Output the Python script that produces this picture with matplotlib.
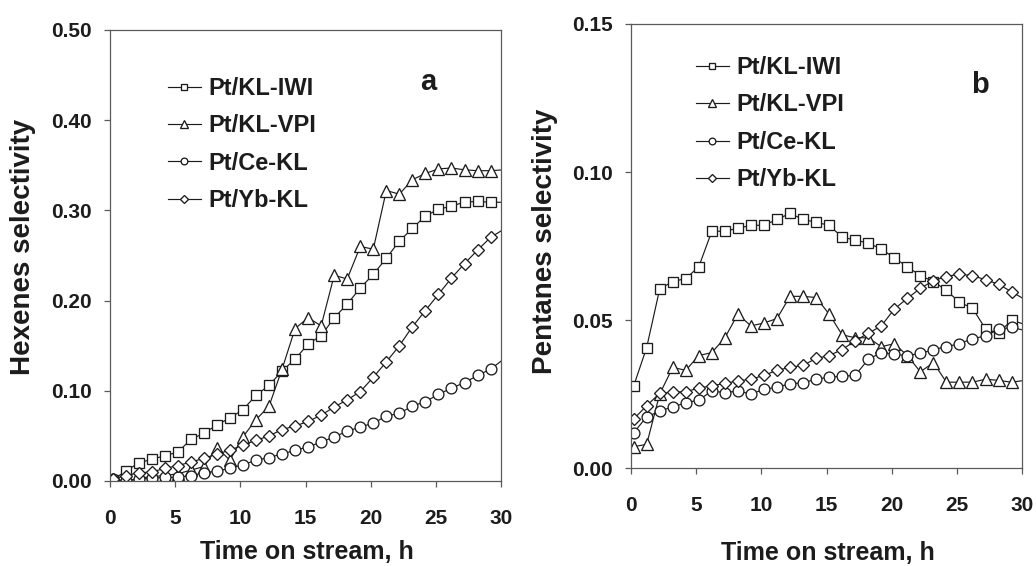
import numpy as np
import matplotlib.pyplot as plt

plt.rcParams['font.family'] = ['Liberation Sans', 'DejaVu Sans']
plt.rcParams['font.weight'] = 'bold'
plt.rcParams['axes.labelweight'] = 'bold'

# sampling times (h); last point lies just past the axis end
hours = np.arange(0.2, 31, 1.0)

series_names = ['Pt/KL-IWI', 'Pt/KL-VPI', 'Pt/Ce-KL', 'Pt/Yb-KL']
series_markers = ['s', '^', 'o', 'D']

# (a) hexenes selectivity
hex_iwi = [0.001, 0.011, 0.020, 0.024, 0.028, 0.032, 0.046, 0.053, 0.062, 0.070,
           0.079, 0.095, 0.106, 0.122, 0.135, 0.152, 0.161, 0.181, 0.196, 0.214,
           0.229, 0.247, 0.266, 0.280, 0.294, 0.301, 0.305, 0.309, 0.310, 0.309, 0.309]
hex_vpi = [0.002, 0.000, 0.003, 0.005, 0.006, 0.008, 0.012, 0.016, 0.037, 0.023,
           0.049, 0.068, 0.083, 0.124, 0.169, 0.181, 0.172, 0.228, 0.224, 0.260,
           0.257, 0.322, 0.318, 0.334, 0.341, 0.346, 0.347, 0.345, 0.344, 0.344, 0.345]
hex_ce = [0.002, 0.000, 0.002, 0.003, 0.004, 0.004, 0.006, 0.009, 0.011, 0.014,
          0.018, 0.023, 0.026, 0.030, 0.034, 0.038, 0.043, 0.049, 0.055, 0.060,
          0.064, 0.072, 0.075, 0.083, 0.088, 0.096, 0.103, 0.109, 0.117, 0.124, 0.135]
hex_yb = [0.002, 0.006, 0.009, 0.010, 0.014, 0.017, 0.021, 0.025, 0.030, 0.034,
          0.040, 0.045, 0.050, 0.057, 0.061, 0.066, 0.073, 0.082, 0.090, 0.099,
          0.115, 0.132, 0.150, 0.171, 0.189, 0.207, 0.225, 0.241, 0.256, 0.270, 0.279]

# (b) pentanes selectivity
pen_iwi = [0.0277, 0.0407, 0.0605, 0.063, 0.064, 0.068, 0.080, 0.080, 0.081, 0.082,
           0.082, 0.084, 0.086, 0.084, 0.083, 0.082, 0.078, 0.077, 0.076, 0.074,
           0.071, 0.068, 0.065, 0.063, 0.060, 0.056, 0.054, 0.047, 0.0455, 0.050, 0.0485]
pen_vpi = [0.0072, 0.0080, 0.025, 0.034, 0.033, 0.038, 0.039, 0.044, 0.052, 0.048,
           0.049, 0.0505, 0.058, 0.058, 0.0576, 0.052, 0.045, 0.044, 0.044, 0.041,
           0.042, 0.038, 0.0325, 0.0356, 0.029, 0.029, 0.029, 0.030, 0.0296, 0.029, 0.0296]
pen_ce = [0.0119, 0.0173, 0.0192, 0.0207, 0.022, 0.023, 0.026, 0.0255, 0.026, 0.025,
          0.0266, 0.0273, 0.0285, 0.0288, 0.030, 0.0307, 0.031, 0.0313, 0.0367, 0.039,
          0.0384, 0.038, 0.0387, 0.040, 0.041, 0.042, 0.0437, 0.0446, 0.0469, 0.0475, 0.0465]
pen_yb = [0.0165, 0.0211, 0.0252, 0.0256, 0.0258, 0.0270, 0.0278, 0.0286, 0.0294, 0.030,
          0.0313, 0.033, 0.034, 0.0347, 0.037, 0.038, 0.040, 0.043, 0.0455, 0.048,
          0.0537, 0.0573, 0.0607, 0.0633, 0.0647, 0.0655, 0.065, 0.0636, 0.0621, 0.0595, 0.057]

ink = '#1c1c1c'
axis_grey = '#5a5a5a'
marker_sizes = {'s': 7.8, '^': 8.4, 'o': 7.8, 'D': 6.2}


def draw_panel(ax, curves, ymax, yticks, ylabel, letter, letter_xy, legend_xy):
    for vals, name, mk in zip(curves, series_names, series_markers):
        ax.plot(hours, vals, color=ink, lw=0.85, marker=mk, ms=marker_sizes[mk],
                mfc='white', mec=ink, mew=0.95, markevery=slice(0, 30), label=name)

    ax.set_xlim(0, 30)
    ax.set_ylim(0, ymax)
    ax.set_xticks([0, 5, 10, 15, 20, 25, 30])
    ax.set_yticks(yticks)
    ax.set_yticklabels([f'{t:.2f}' for t in yticks])

    for side in ['left', 'right', 'top', 'bottom']:
        ax.spines[side].set_color(axis_grey)
        ax.spines[side].set_linewidth(0.9)
    ax.tick_params(axis='both', direction='out', length=4, width=0.9,
                   color=axis_grey, labelsize=15, labelcolor=ink)
    ax.tick_params(axis='x', pad=16)
    ax.tick_params(axis='y', pad=9)

    ax.set_xlabel('Time on stream, h', fontsize=18, color=ink)
    ax.set_ylabel(ylabel, fontsize=20, color=ink)

    ax.text(letter_xy[0], letter_xy[1], letter, transform=ax.transAxes,
            fontsize=21, color=ink, ha='center', va='center')

    ax.legend(loc='upper left', bbox_to_anchor=legend_xy, frameon=False,
              fontsize=17, markerscale=0.62, handlelength=1.4,
              handletextpad=0.3, labelspacing=0.61, borderpad=0,
              borderaxespad=0, labelcolor=ink)


fig = plt.figure(figsize=(10.36, 5.66), dpi=100)
ax_a = fig.add_axes([0.1062, 0.1502, 0.3774, 0.7968])
ax_b = fig.add_axes([0.6091, 0.1731, 0.3774, 0.7845])

draw_panel(ax_a, [hex_iwi, hex_vpi, hex_ce, hex_yb], 0.5,
           [0.0, 0.1, 0.2, 0.3, 0.4, 0.5], 'Hexenes selectivity',
           'a', (0.813, 0.885), (0.148, 0.896))
draw_panel(ax_b, [pen_iwi, pen_vpi, pen_ce, pen_yb], 0.15,
           [0.0, 0.05, 0.10, 0.15], 'Pentanes selectivity',
           'b', (0.893, 0.863), (0.166, 0.928))

ax_a.xaxis.set_label_coords(0.504, -0.131)
ax_b.xaxis.set_label_coords(0.504, -0.164)
ax_a.yaxis.set_label_coords(-0.19, 0.52)
ax_b.yaxis.set_label_coords(-0.187, 0.51)

fig.savefig('out.png', dpi=100, facecolor='white')
